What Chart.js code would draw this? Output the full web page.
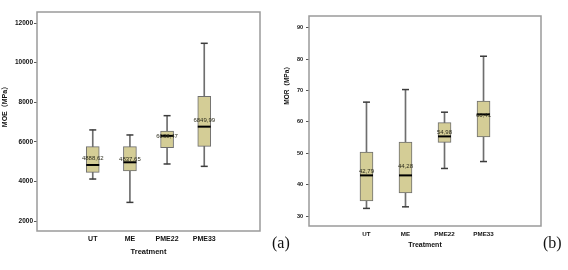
<!DOCTYPE html>
<html>
<head>
<meta charset="utf-8">
<script src="https://cdn.jsdelivr.net/npm/chart.js@4/dist/chart.umd.min.js"></script>
<style>
  body { margin: 0; background: #fff; width: 568px; height: 270px; position: relative; overflow: hidden; }
  canvas { position: absolute; top: 0; }
  #moeChart { left: 0; }
  #morChart { left: 280px; }
  .panel { position: absolute; top: 235px; font-family: 'Liberation Serif', 'Times New Roman', serif; font-size: 16px; line-height: 16px; color: #111; }
</style>
</head>
<body>
<canvas id="moeChart" width="280" height="270"></canvas>
<canvas id="morChart" width="288" height="270"></canvas>
<div class="panel" style="left:272px">(a)</div>
<div class="panel" style="left:543px">(b)</div>
<script>
const categories = ["UT", "ME", "PME22", "PME33"];

// MOE (MPa)
const moeTicks = [2000, 4000, 6000, 8000, 10000, 12000];
const moeMin = [4120, 2940, 4880, 4760];
const moeQ1 = [4460, 4525, 5700, 5770];
const moeMedian = [4830, 4965, 6300, 6765];
const moeQ3 = [5755, 5755, 6545, 8300];
const moeMax = [6600, 6345, 7320, 10975];
const moeMean = [4888.62, 4837.65, 6038.47, 6849.99];

// MOR (MPa)
const morTicks = [30, 40, 50, 60, 70, 80, 90];
const morMin = [32.5, 33.0, 45.2, 47.4];
const morQ1 = [34.9, 37.4, 53.5, 55.2];
const morMedian = [43.0, 43.0, 55.4, 62.4];
const morQ3 = [50.45, 53.6, 59.8, 66.6];
const morMax = [66.3, 70.3, 63.1, 80.9];
const morMean = [42.79, 44.28, 54.98, 60.41];

Chart.defaults.font.family = "'Liberation Sans', Arial, sans-serif";

// frame, mean labels and rotated y title
const boxExtras = {
  id: "boxExtras",
  afterDatasetsDraw(chart, args, opts) {
    const { ctx, chartArea, scales } = chart;
    ctx.save();
    ctx.strokeStyle = "#9a9a9a";
    ctx.lineWidth = 1.5;
    ctx.strokeRect(chartArea.left, chartArea.top, chartArea.right - chartArea.left, chartArea.bottom - chartArea.top);

    ctx.font = opts.labelFont;
    ctx.fillStyle = "#2c2c1c";
    ctx.textAlign = "center";
    ctx.textBaseline = "middle";
    opts.means.forEach((m, i) => {
      ctx.fillText(m.toFixed(2).replace(".", ","), scales.x.getPixelForValue(i), scales.y.getPixelForValue(m) - 5);
    });

    ctx.translate(opts.titleX, opts.titleY);
    ctx.rotate(-Math.PI / 2);
    ctx.font = opts.titleFont;
    ctx.fillStyle = "#111";
    ctx.fillText(opts.title, 0, 0);
    ctx.restore();
  },
};

const makeBoxChart = (canvasId, s) => {
  const idx = categories.map((c, i) => i);
  return new Chart(document.getElementById(canvasId), {
    type: "bar",
    data: {
      datasets: [
        {
          type: "scatter",
          data: idx.map((i) => ({ x: i, y: s.median[i] })),
          pointStyle: "line",
          pointRadius: 6.5,
          pointBorderColor: "#000",
          pointBorderWidth: 2,
          order: 1,
        },
        {
          type: "scatter",
          data: idx.map((i) => ({ x: i, y: s.min[i] })).concat(idx.map((i) => ({ x: i, y: s.max[i] }))),
          pointStyle: "line",
          pointRadius: 3.5,
          pointBorderColor: "#3c3c3c",
          pointBorderWidth: 1.5,
          order: 2,
        },
        {
          data: idx.map((i) => ({ x: i, y: [s.q1[i], s.q3[i]] })),
          backgroundColor: "#d4cd96",
          borderColor: "#6e6e6e",
          borderWidth: 1,
          borderSkipped: false,
          barThickness: 13,
          grouped: false,
          order: 3,
        },
        {
          data: idx.map((i) => ({ x: i, y: [s.min[i], s.max[i]] })),
          backgroundColor: "#6e6e6e",
          barThickness: 1,
          grouped: false,
          order: 4,
        },
      ],
    },
    options: {
      responsive: false,
      animation: false,
      events: [],
      layout: { padding: s.padding },
      plugins: {
        legend: { display: false },
        tooltip: { enabled: false },
        boxExtras: {
          means: s.mean,
          labelFont: s.labelFont,
          title: s.title,
          titleFont: s.titleFont,
          titleX: s.titleX,
          titleY: s.titleY,
        },
      },
      scales: {
        x: {
          type: "linear",
          min: s.xMin,
          max: s.xMax,
          afterBuildTicks: (sc) => { sc.ticks = idx.map((v) => ({ value: v })); },
          afterFit: (sc) => { sc.height = s.xAxisHeight; },
          grid: { display: true, drawOnChartArea: false, drawTicks: false },
          border: { display: false },
          ticks: {
            callback: (v) => categories[v],
            font: { size: s.xTickSize, weight: "bold" },
            color: "#111",
            padding: s.xTickPad,
            maxRotation: 0,
            autoSkip: false,
          },
          title: {
            display: true,
            text: "Treatment",
            font: { size: s.xTitleSize, weight: "bold" },
            color: "#111",
            padding: { top: 0, bottom: s.xTitlePad },
          },
        },
        y: {
          min: s.yMin,
          max: s.yMax,
          afterBuildTicks: (sc) => { sc.ticks = s.ticks.map((v) => ({ value: v })); },
          afterFit: (sc) => { sc.width = s.yAxisWidth; },
          grid: { drawOnChartArea: false, tickLength: 3, color: "#555" },
          border: { display: false },
          ticks: {
            callback: (v) => String(v),
            font: { size: s.yTickSize, weight: "bold" },
            color: "#111",
            padding: s.yTickPad,
          },
        },
      },
    },
    plugins: [boxExtras],
  });
};

makeBoxChart("moeChart", {
  min: moeMin, q1: moeQ1, median: moeMedian, q3: moeQ3, max: moeMax, mean: moeMean, ticks: moeTicks,
  yMin: 1495, yMax: 12556, xMin: -0.75, xMax: 3.75,
  padding: { left: 0, top: 12, right: 20, bottom: 0 },
  yAxisWidth: 37, xAxisHeight: 39,
  yTickSize: 6.5, yTickPad: 1, xTickSize: 7, xTickPad: 4, xTitleSize: 7.5, xTitlePad: 14,
  labelFont: "6px 'Liberation Sans', Arial, sans-serif",
  title: "MOE（MPa）", titleFont: "bold 7px 'Liberation Sans', 'Noto Sans CJK SC', sans-serif",
  titleX: 5, titleY: 105,
});

makeBoxChart("morChart", {
  min: morMin, q1: morQ1, median: morMedian, q3: morQ3, max: morMax, mean: morMean, ticks: morTicks,
  yMin: 26.9, yMax: 93.7, xMin: -0.73, xMax: 3.73,
  padding: { left: 0, top: 16, right: 27, bottom: 0 },
  yAxisWidth: 29, xAxisHeight: 44,
  yTickSize: 5.5, yTickPad: 3, xTickSize: 6.2, xTickPad: 5, xTitleSize: 7, xTitlePad: 21,
  labelFont: "6px 'Liberation Sans', Arial, sans-serif",
  title: "MOR（MPa）", titleFont: "bold 6.5px 'Liberation Sans', 'Noto Sans CJK SC', sans-serif",
  titleX: 7.5, titleY: 84,
});
</script>
</body>
</html>
